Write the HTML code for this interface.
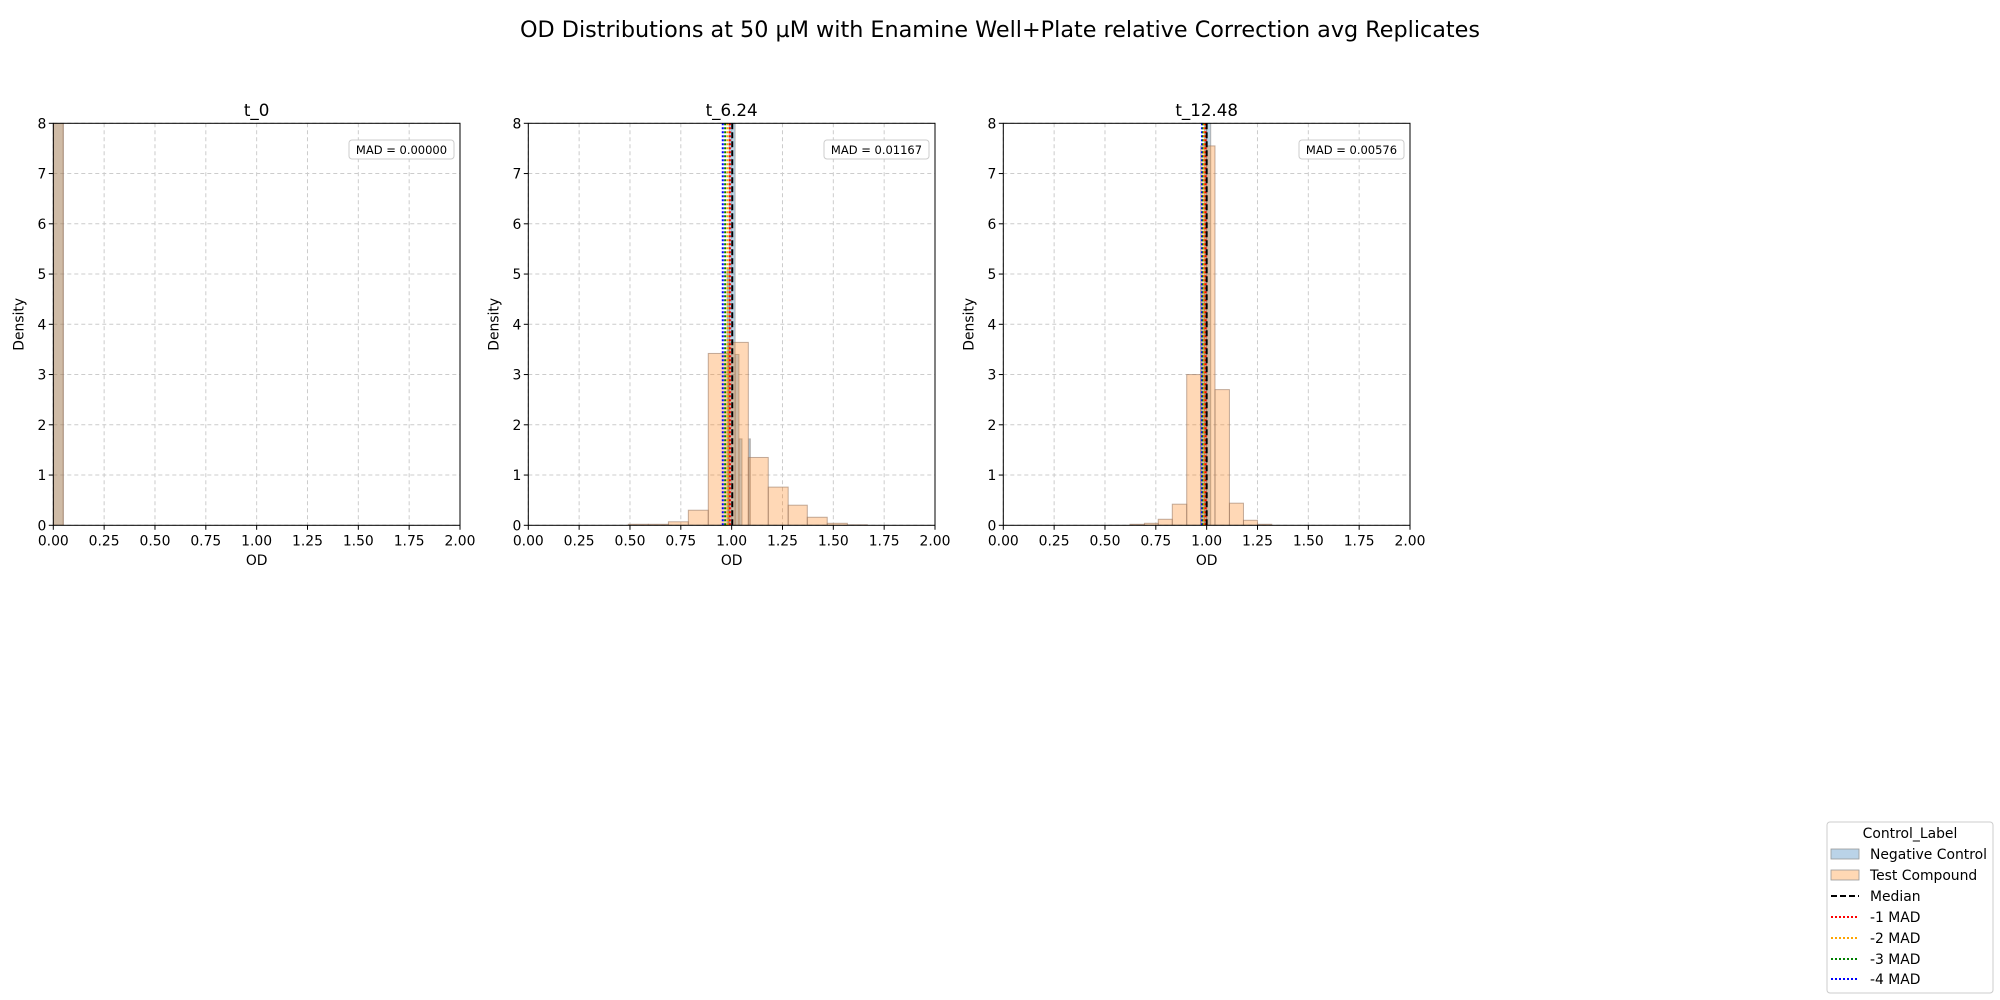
<!DOCTYPE html>
<html><head><meta charset="utf-8">
<style>
html,body{margin:0;padding:0;background:#fff;}
svg{display:block;font-family:"DejaVu Sans","Liberation Sans",sans-serif;}
</style></head>
<body>
<svg id="fig" width="2000" height="1000" viewBox="0 0 2000 1000" xmlns="http://www.w3.org/2000/svg">
<text x="1000" y="37" text-anchor="middle" font-size="22.3" fill="#000">OD Distributions at 50 µM with Enamine Well+Plate relative Correction avg Replicates</text>
<g id="panels"></g>
<g>
<rect x="1827" y="822" width="166" height="171" rx="3" fill="#fff" stroke="#ccc" stroke-width="1"/>
<text x="1910" y="838" text-anchor="middle" font-size="13.9">Control_Label</text>
<g><rect x="1831" y="849" width="28" height="10" fill="#bad3e8" stroke="#999" stroke-width="0.8"/><text x="1870" y="859" font-size="13.9">Negative Control</text></g>
<g><rect x="1831" y="870" width="28" height="10" fill="#ffd8b4" stroke="#999" stroke-width="0.8"/><text x="1870" y="880" font-size="13.9">Test Compound</text></g>
<g><line x1="1831" y1="896" x2="1859" y2="896" stroke="#000" stroke-width="2" stroke-dasharray="6,3"/><text x="1870" y="901" font-size="13.9">Median</text></g>
<g><line x1="1831" y1="917" x2="1859" y2="917" stroke="red" stroke-width="2" stroke-dasharray="2,2"/><text x="1870" y="922" font-size="13.9">-1 MAD</text></g>
<g><line x1="1831" y1="938" x2="1859" y2="938" stroke="orange" stroke-width="2" stroke-dasharray="2,2"/><text x="1870" y="943" font-size="13.9">-2 MAD</text></g>
<g><line x1="1831" y1="959" x2="1859" y2="959" stroke="green" stroke-width="2" stroke-dasharray="2,2"/><text x="1870" y="964" font-size="13.9">-3 MAD</text></g>
<g><line x1="1831" y1="979" x2="1859" y2="979" stroke="blue" stroke-width="2" stroke-dasharray="2,2"/><text x="1870" y="984" font-size="13.9">-4 MAD</text></g>
</g>
</svg>
<script>
const panelTitles = ["t_0", "t_6.24", "t_12.48"];
const panelLeft = [53.3, 528.3, 1003.3];
const madValues = [0.0, 0.01167, 0.00576];
const medians = [0.0, 1.003, 1.0];
const xTicks = [0, 0.25, 0.5, 0.75, 1.0, 1.25, 1.5, 1.75, 2.0];
const xTickLabels = ["0.00","0.25","0.50","0.75","1.00","1.25","1.50","1.75","2.00"];
const yTicks = [0,1,2,3,4,5,6,7,8];
// test compound histograms: bin edges and densities
const testEdges0 = [0.0, 0.049];
const testDens0 = [20];
const testEdges1 = [0.492,0.590,0.689,0.787,0.885,0.984,1.082,1.180,1.278,1.372,1.470,1.569,1.667];
const testDens1 = [0.02,0.02,0.07,0.30,3.42,3.64,1.35,0.76,0.40,0.16,0.04,0.01];
const testEdges2 = [0.623,0.694,0.762,0.831,0.902,0.971,1.041,1.112,1.181,1.250,1.320];
const testDens2 = [0.02,0.04,0.12,0.42,3.0,7.55,2.7,0.44,0.10,0.02];
// negative control histograms
const negEdges0 = [0.0, 0.049];
const negDens0 = [20];
const negEdges1 = [0.978,0.988,1.017,1.036,1.051,1.085,1.092];
const negDens1 = [5.1,20,3.4,1.72,0,1.72];
const negEdges2 = [0.971,0.990,1.000,1.020];
const negDens2 = [4.8,20,20];

const testEdges=[testEdges0,testEdges1,testEdges2], testDens=[testDens0,testDens1,testDens2];
const negEdges=[negEdges0,negEdges1,negEdges2], negDens=[negDens0,negDens1,negDens2];

const NS="http://www.w3.org/2000/svg";
const W=406.7, TOP=123.3, H=402, XMAX=2, YMAX=8;
const root=document.getElementById('panels');
function mk(tag, attrs, parent){const e=document.createElementNS(NS,tag);for(const k in attrs)e.setAttribute(k,attrs[k]);parent.appendChild(e);return e;}

panelTitles.forEach((title,p)=>{
  const L=panelLeft[p];
  const xs=v=>L+v/XMAX*W;
  const ys=v=>TOP+H-Math.min(v,YMAX+0.5)/YMAX*H;
  const g=mk('g',{},root);
  
  
  const clipId='clip'+p;
  const cp=mk('clipPath',{id:clipId},g); mk('rect',{x:L,y:TOP,width:W,height:H},cp);
  xTicks.forEach(t=>{const l=mk('line',{x1:xs(t),x2:xs(t),y1:TOP,y2:TOP+H,stroke:'#ccc','stroke-width':1,'stroke-dasharray':'4,3'},g);
    
    });
  yTicks.forEach(t=>{const l=mk('line',{x1:L,x2:L+W,y1:ys(t),y2:ys(t),stroke:'#ccc','stroke-width':1,'stroke-dasharray':'4,3'},g);
    
    });
  const data=mk('g',{'clip-path':'url(#'+clipId+')'},g);
  const ne=negEdges[p], nd=negDens[p];
  nd.forEach((d,i)=>{ if(d<=0) return;
    const r=mk('rect',{x:xs(ne[i]),y:ys(d),width:xs(ne[i+1])-xs(ne[i]),height:ys(0)-ys(d),fill:'#1f77b4','fill-opacity':0.3,stroke:'#8a7a70','stroke-width':1,'stroke-opacity':0.5},data);
    
    });
  const te=testEdges[p], td=testDens[p];
  td.forEach((d,i)=>{ if(d<=0) return;
    const r=mk('rect',{x:xs(te[i]),y:ys(d),width:xs(te[i+1])-xs(te[i]),height:ys(0)-ys(d),fill:'#ff7f0e','fill-opacity':0.3,stroke:'#9a7a66','stroke-width':1,'stroke-opacity':0.6},data);
    
    });
  if(madValues[p]>0){
    const cols=['blue','green','orange','red'];
    [4,3,2,1].forEach((k,j)=>{const xv=medians[p]-k*madValues[p];
      const l=mk('line',{x1:xs(xv),x2:xs(xv),y1:TOP,y2:TOP+H,stroke:cols[j],'stroke-width':2,'stroke-dasharray':'2,2'},data);
      
      });
    const ml=mk('line',{x1:xs(medians[p]),x2:xs(medians[p]),y1:TOP,y2:TOP+H,stroke:'#000','stroke-width':2,'stroke-dasharray':'6,3'},data);
    
    
  }
  const fr=mk('rect',{x:L,y:TOP,width:W,height:H,fill:'none',stroke:'#000','stroke-width':1},g);
  
  
  xTicks.forEach((t,i)=>{mk('line',{x1:xs(t),x2:xs(t),y1:TOP+H,y2:TOP+H+4.5,stroke:'#000'},g);
    const tx=mk('text',{x:xs(t),y:TOP+H+20,'text-anchor':'middle','font-size':13.9},g);tx.textContent=xTickLabels[i];
    
    });
  yTicks.forEach(t=>{mk('line',{x1:L-4.5,x2:L,y1:ys(t),y2:ys(t),stroke:'#000'},g);
    const tx=mk('text',{x:L-7,y:ys(t)+5,'text-anchor':'end','font-size':13.9},g);tx.textContent=t;
    
    });
  const t1=mk('text',{x:L+W/2,y:116,'text-anchor':'middle','font-size':16.7},g);t1.textContent=title;
  
  
  const xl=mk('text',{x:L+W/2,y:565,'text-anchor':'middle','font-size':13.9},g);xl.textContent='OD';
  
  
  const yl=mk('text',{x:0,y:0,'text-anchor':'middle','font-size':13.9,transform:'translate('+(L-30)+','+(TOP+H/2)+') rotate(-90)'},g);yl.textContent='Density';
  
  
  const bx=mk('g',{},g);
  
  
  mk('rect',{x:L+W-111,y:140,width:105,height:19,rx:3,fill:'#fff',stroke:'#ccc'},bx);
  const mt=mk('text',{x:L+W-58.5,y:154,'text-anchor':'middle','font-size':11.5},bx);
  mt.textContent='MAD = '+madValues[p].toFixed(5);
});
</script>
</body></html>
